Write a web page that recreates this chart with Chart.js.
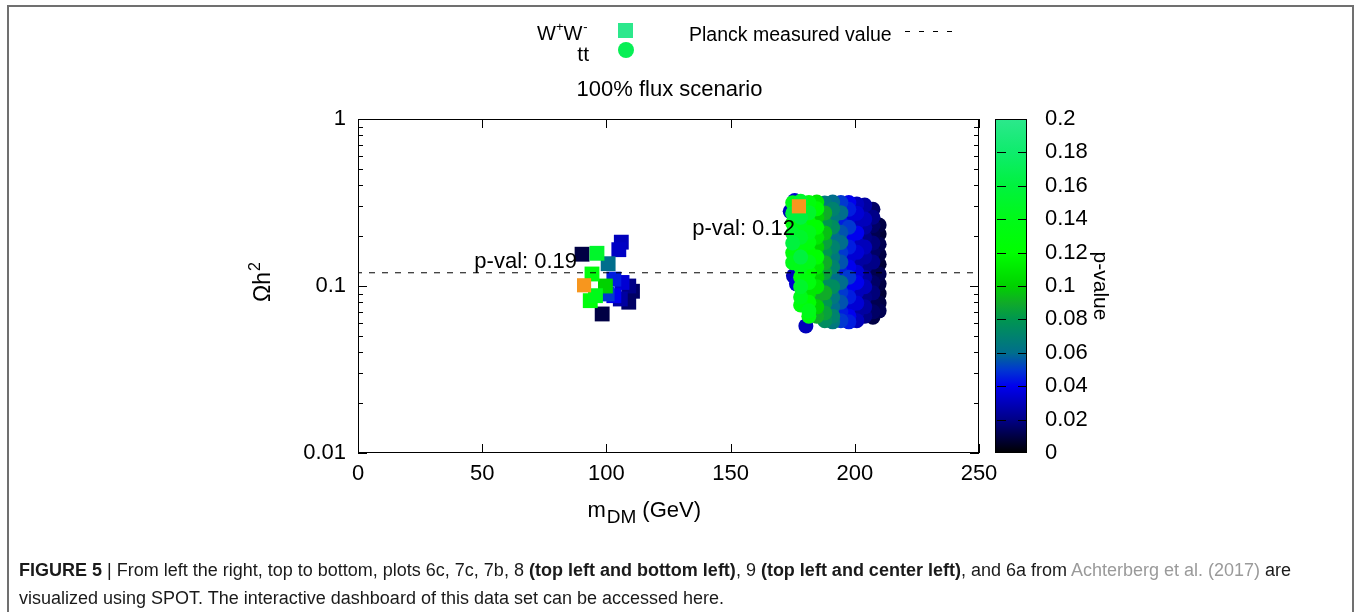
<!DOCTYPE html>
<html>
<head>
<meta charset="utf-8">
<script src="https://cdn.jsdelivr.net/npm/chart.js@4.4.0/dist/chart.umd.min.js"></script>
<style>
  body { margin: 0; background: #fff; }
  #wrap { position: relative; width: 1356px; height: 612px; overflow: hidden; background: #fff; }
  #frame { position: absolute; left: 7px; top: 5px; width: 1347px; height: 700px; border: 2px solid #707070; box-sizing: border-box; }
  canvas { position: absolute; left: 0; top: 0; }
  #caption { position: absolute; left: 19px; top: 556px; white-space: nowrap;
    font: 18px "Liberation Sans", Arial, sans-serif; line-height: 28px; color: #1a1a1a; }
  #caption .ref { color: #9a9a9a; }
</style>
</head>
<body>
<div id="wrap">
  <div id="frame"></div>
  <canvas id="chart" width="1356" height="612"></canvas>
  <div id="caption"><b>FIGURE 5</b> | From left the right, top to bottom, plots 6c, 7c, 7b, 8 <b>(top left and bottom left)</b>, 9 <b>(top left and center left)</b>, and 6a from <span class="ref">Achterberg et al. (2017)</span> are<br>visualized using SPOT. The interactive dashboard of this data set can be accessed here.</div>
</div>
<script>
// W+W- channel (squares): mass, relic density, p-value
const wwMass  = [90.2, 96.2, 106.0, 105.0, 100.7, 94.2, 95.6, 93.5, 99.6, 103.0, 106.3, 109.0, 103.0, 109.0, 98.3, 105.6, 100.3, 110.5];
const wwOmega = [0.155, 0.157, 0.183, 0.165, 0.136, 0.118, 0.0875, 0.0817, 0.100, 0.110, 0.105, 0.100, 0.0875, 0.080, 0.068, 0.0836, 0.0896, 0.093];
const wwPval  = [0.01, 0.15, 0.03, 0.032, 0.06, 0.13, 0.14, 0.13, 0.10, 0.045, 0.035, 0.02, 0.04, 0.015, 0.01, 0.025, 0.05, 0.015];

// tt channel (circles), read column by column across the cloud
const ttMass = [175.0, 178.2, 181.5, 184.7, 187.9, 191.1, 194.4, 197.6, 200.8, 204.0, 207.3, 209.8];
const ttOmega = [
  [0.315, 0.272, 0.238, 0.207, 0.181, 0.158, 0.138],
  [0.322, 0.290, 0.258, 0.225, 0.196, 0.171, 0.149, 0.130, 0.113, 0.099, 0.086, 0.077],
  [0.316, 0.275, 0.240, 0.209, 0.182, 0.159, 0.139, 0.120, 0.105, 0.091, 0.080, 0.071, 0.066],
  [0.318, 0.290, 0.258, 0.225, 0.196, 0.171, 0.149, 0.130, 0.113, 0.099, 0.086, 0.075, 0.066],
  [0.314, 0.274, 0.239, 0.208, 0.182, 0.159, 0.138, 0.120, 0.105, 0.091, 0.079, 0.069, 0.062],
  [0.318, 0.288, 0.258, 0.225, 0.196, 0.171, 0.149, 0.130, 0.113, 0.099, 0.086, 0.075, 0.066, 0.061],
  [0.316, 0.275, 0.241, 0.210, 0.182, 0.159, 0.139, 0.120, 0.105, 0.092, 0.080, 0.070, 0.062],
  [0.316, 0.288, 0.258, 0.225, 0.196, 0.171, 0.149, 0.130, 0.113, 0.099, 0.086, 0.075, 0.066, 0.061],
  [0.310, 0.273, 0.239, 0.208, 0.182, 0.159, 0.139, 0.121, 0.105, 0.092, 0.079, 0.069, 0.062],
  [0.305, 0.280, 0.252, 0.225, 0.196, 0.171, 0.149, 0.130, 0.113, 0.099, 0.086, 0.075, 0.066],
  [0.288, 0.258, 0.230, 0.205, 0.181, 0.159, 0.139, 0.121, 0.105, 0.091, 0.080, 0.070, 0.065],
  [0.232, 0.205, 0.178, 0.155, 0.135, 0.118, 0.103, 0.090, 0.079, 0.071]
];
const ttPval = [
  [0.14, 0.16, 0.13, 0.15, 0.16, 0.13, 0.14],
  [0.15, 0.13, 0.16, 0.14, 0.15, 0.13, 0.16, 0.14, 0.13, 0.15, 0.14, 0.13],
  [0.13, 0.15, 0.12, 0.14, 0.13, 0.12, 0.14, 0.12, 0.13, 0.11, 0.12, 0.14, 0.13],
  [0.11, 0.12, 0.10, 0.12, 0.11, 0.10, 0.12, 0.11, 0.10, 0.11, 0.09, 0.10, 0.09],
  [0.065, 0.09, 0.08, 0.095, 0.085, 0.08, 0.09, 0.085, 0.075, 0.09, 0.08, 0.085, 0.075],
  [0.06, 0.07, 0.065, 0.075, 0.06, 0.07, 0.065, 0.07, 0.06, 0.075, 0.065, 0.06, 0.07, 0.065],
  [0.05, 0.06, 0.045, 0.055, 0.06, 0.05, 0.055, 0.045, 0.06, 0.05, 0.055, 0.045, 0.05],
  [0.04, 0.045, 0.035, 0.05, 0.04, 0.045, 0.035, 0.04, 0.05, 0.04, 0.045, 0.035, 0.04, 0.045],
  [0.03, 0.035, 0.03, 0.04, 0.03, 0.035, 0.025, 0.035, 0.04, 0.03, 0.035, 0.025, 0.03],
  [0.025, 0.02, 0.03, 0.025, 0.02, 0.03, 0.025, 0.02, 0.025, 0.03, 0.02, 0.025, 0.02],
  [0.015, 0.02, 0.015, 0.012, 0.018, 0.015, 0.02, 0.012, 0.015, 0.018, 0.012, 0.015, 0.01],
  [0.01, 0.008, 0.012, 0.01, 0.008, 0.012, 0.01, 0.008, 0.01, 0.012]
];
// stray low p-value points on the left edge of the tt cloud
const ttEdgeMass  = [174.0, 175.8, 175.3, 176.5, 180.3];
const ttEdgeOmega = [0.280, 0.325, 0.115, 0.103, 0.0577];
const ttEdgePval  = [0.03, 0.035, 0.03, 0.035, 0.03];

// best fit points (orange squares)
const bestMass  = [91.0, 177.5];
const bestOmega = [0.101, 0.300];

// Planck measured value
const planckOmega = 0.12;

// annotations
const noteText  = ['p-val: 0.19', 'p-val: 0.12'];
const noteMass  = [88.2, 175.9];
const noteOmega = [0.139, 0.219];

// axes and colour bar
const xTicks = [0, 50, 100, 150, 200, 250];
const yMajorTicks = [0.01, 0.1, 1];
const yMinorTicks = [0.02, 0.03, 0.04, 0.05, 0.06, 0.07, 0.08, 0.09, 0.2, 0.3, 0.4, 0.5, 0.6, 0.7, 0.8, 0.9];
const cbTicks = [0, 0.02, 0.04, 0.06, 0.08, 0.1, 0.12, 0.14, 0.16, 0.18, 0.2];
const cbTickLabels = ['0', '0.02', '0.04', '0.06', '0.08', '0.1', '0.12', '0.14', '0.16', '0.18', '0.2'];
const cbStops  = [0, 0.02, 0.04, 0.05, 0.06, 0.08, 0.09, 0.1, 0.12, 0.14, 0.16, 0.18, 0.2];
const cbColors = ['#000000', '#000087', '#0000ee', '#0038d0', '#006e8c', '#009650', '#10ab28', '#00d200', '#00ff00', '#00fa18', '#00f23e', '#0eec6c', '#2ce88c'];

const FONT = '"Liberation Sans", Arial, sans-serif';

function hexRgb(h) {
  return [parseInt(h.slice(1, 3), 16), parseInt(h.slice(3, 5), 16), parseInt(h.slice(5, 7), 16)];
}
function pColor(p) {
  if (p <= cbStops[0]) return cbColors[0];
  for (let i = 1; i < cbStops.length; i++) {
    if (p <= cbStops[i]) {
      const t = (p - cbStops[i - 1]) / (cbStops[i] - cbStops[i - 1]);
      const a = hexRgb(cbColors[i - 1]), b = hexRgb(cbColors[i]);
      const c = a.map((v, k) => Math.round(v + (b[k] - v) * t));
      return `rgb(${c[0]},${c[1]},${c[2]})`;
    }
  }
  return cbColors[cbColors.length - 1];
}

const wwData = wwMass.map((m, i) => ({x: m, y: wwOmega[i], p: wwPval[i]}))
  .sort((a, b) => a.p - b.p);
const ttData = [];
ttMass.forEach((m, i) => ttOmega[i].forEach((o, j) => ttData.push({x: m, y: o, p: ttPval[i][j]})));
ttEdgeMass.forEach((m, i) => ttData.push({x: m, y: ttEdgeOmega[i], p: ttEdgePval[i]}));
ttData.sort((a, b) => a.p - b.p);
const bestData = bestMass.map((m, i) => ({x: m, y: bestOmega[i]}));

// DRAW EVERYTHING THAT IS NOT A PLAIN DATASET: frame, ticks, colour bar, legend, titles
const decor = {
  id: 'decor',
  afterDatasetsDraw(chart) {
    const {ctx, scales: {x, y}} = chart;
    ctx.save();
    ctx.fillStyle = '#000';
    ctx.font = '22px ' + FONT;
    ctx.textAlign = 'right';
    ctx.textBaseline = 'middle';
    noteText.forEach((t, i) => ctx.fillText(t, x.getPixelForValue(noteMass[i]), y.getPixelForValue(noteOmega[i])));
    ctx.restore();
  },
  afterDraw(chart) {
    const {ctx, chartArea: a, scales: {x, y, pv}} = chart;
    ctx.save();
    ctx.strokeStyle = '#000';
    ctx.lineWidth = 1;
    ctx.strokeRect(a.left + 0.5, a.top + 0.5, a.width - 1, a.height - 1);

    // inward tick marks, mirrored
    ctx.beginPath();
    xTicks.forEach(v => {
      const px = Math.round(x.getPixelForValue(v)) + 0.5;
      ctx.moveTo(px, a.bottom); ctx.lineTo(px, a.bottom - 9);
      ctx.moveTo(px, a.top); ctx.lineTo(px, a.top + 9);
    });
    yMajorTicks.concat(yMinorTicks).forEach(v => {
      const len = yMajorTicks.includes(v) ? 9 : 5;
      const py = Math.round(y.getPixelForValue(v)) + 0.5;
      ctx.moveTo(a.left, py); ctx.lineTo(a.left + len, py);
      ctx.moveTo(a.right, py); ctx.lineTo(a.right - len, py);
    });
    ctx.stroke();

    // colour bar
    const cbL = a.right + 16, cbW = 32;
    const cbTop = pv.getPixelForValue(0.2), cbBot = pv.getPixelForValue(0);
    const g = ctx.createLinearGradient(0, cbBot, 0, cbTop);
    cbStops.forEach((s, i) => g.addColorStop(s / 0.2, cbColors[i]));
    ctx.fillStyle = g;
    ctx.fillRect(cbL, cbTop, cbW, cbBot - cbTop);
    ctx.strokeRect(cbL + 0.5, cbTop + 0.5, cbW - 1, cbBot - cbTop - 1);
    ctx.beginPath();
    cbTicks.slice(1, -1).forEach(v => {
      const py = Math.round(pv.getPixelForValue(v)) + 0.5;
      ctx.moveTo(cbL + 2, py); ctx.lineTo(cbL + 11, py);
      ctx.moveTo(cbL + cbW - 9, py); ctx.lineTo(cbL + cbW, py);
    });
    ctx.stroke();

    ctx.fillStyle = '#000';
    // colour bar title
    ctx.save();
    ctx.translate(a.right + 121, (cbTop + cbBot) / 2);
    ctx.rotate(Math.PI / 2);
    ctx.font = '21px ' + FONT;
    ctx.textAlign = 'center';
    ctx.textBaseline = 'middle';
    ctx.fillText('p-value', 0, 0);
    ctx.restore();

    // y title: Ωh^2
    ctx.save();
    ctx.translate(a.left - 96, (a.top + a.bottom) / 2 - 4);
    ctx.rotate(-Math.PI / 2);
    ctx.textBaseline = 'alphabetic';
    ctx.textAlign = 'left';
    ctx.font = '23px ' + FONT;
    const wO = ctx.measureText('Ωh').width;
    ctx.fillText('Ωh', -wO / 2 - 5, 8);
    ctx.font = '16px ' + FONT;
    ctx.fillText('2', wO / 2 - 4, -2);
    ctx.restore();

    // x title: m_DM (GeV)
    ctx.textBaseline = 'alphabetic';
    ctx.textAlign = 'left';
    let tx = (a.left + a.right) / 2 - 81;
    const ty = a.bottom + 64;
    ctx.font = '22px ' + FONT;
    ctx.fillText('m', tx, ty); tx += ctx.measureText('m').width + 1;
    ctx.font = '19px ' + FONT;
    ctx.fillText('DM', tx, ty + 6); tx += ctx.measureText('DM').width + 6;
    ctx.font = '22px ' + FONT;
    ctx.fillText('(GeV)', tx, ty);

    // legend
    const cx = (a.left + a.right) / 2;
    ctx.font = '20px ' + FONT;
    let lx = 537;
    ctx.fillText('W', lx, 40); lx += ctx.measureText('W').width;
    ctx.font = '13px ' + FONT;
    ctx.fillText('+', lx, 31); lx += ctx.measureText('+').width;
    ctx.font = '20px ' + FONT;
    ctx.fillText('W', lx, 40); lx += ctx.measureText('W').width;
    ctx.font = '13px ' + FONT;
    ctx.fillText('-', lx + 1, 31);
    ctx.font = '21px ' + FONT;
    ctx.textAlign = 'right';
    ctx.fillText('tt', 589, 61);
    ctx.fillStyle = pColor(0.2);
    ctx.fillRect(618, 23, 15, 15);
    ctx.fillStyle = pColor(0.17);
    ctx.beginPath(); ctx.arc(626, 50, 8, 0, Math.PI * 2); ctx.fill();
    ctx.fillStyle = '#000';
    ctx.textAlign = 'left';
    ctx.font = '19.5px ' + FONT;
    ctx.fillText('Planck measured value', 689, 41);
    ctx.setLineDash([5, 9]);
    ctx.beginPath(); ctx.moveTo(905, 31.5); ctx.lineTo(960, 31.5); ctx.stroke();
    ctx.setLineDash([]);
    ctx.textAlign = 'center';
    ctx.font = '22px ' + FONT;
    ctx.fillText('100% flux scenario', cx + 1, 96);
    ctx.restore();
  }
};

Chart.defaults.font.family = FONT;
Chart.defaults.font.size = 22;
Chart.defaults.color = '#000';

new Chart(document.getElementById('chart'), {
  type: 'scatter',
  data: {
    datasets: [
      {label: 'tt', data: ttData, pointStyle: 'circle', pointRadius: 7.5, pointHoverRadius: 7.5,
       pointBackgroundColor: c => pColor(c.raw.p), pointBorderWidth: 0, order: 3},
      {label: 'W+W-', data: wwData, pointStyle: 'rect', pointRadius: 10.5, pointHoverRadius: 10.5,
       pointBackgroundColor: c => pColor(c.raw.p), pointBorderWidth: 0, order: 2},
      {label: 'best fit', data: bestData, pointStyle: 'rect', pointRadius: 10, pointHoverRadius: 10,
       pointBackgroundColor: '#f7961e', pointBorderWidth: 0, order: 1},
      {label: 'Planck measured value', data: [{x: 0, y: planckOmega}, {x: 250, y: planckOmega}],
       showLine: true, borderColor: '#000', borderWidth: 1, borderDash: [6, 7], borderDashOffset: 2,
       pointRadius: 0, order: 0}
    ]
  },
  options: {
    responsive: false,
    animation: false,
    events: [],
    layout: {padding: {left: 258, right: 227, top: 119, bottom: 99}},
    plugins: {legend: {display: false}, tooltip: {enabled: false}},
    scales: {
      x: {
        type: 'linear', min: 0, max: 250,
        afterBuildTicks: s => { s.ticks = xTicks.map(v => ({value: v})); },
        afterFit: s => { s.height = 60; },
        ticks: {padding: 8, autoSkip: false, maxRotation: 0},
        grid: {display: false, drawTicks: false},
        border: {display: false}
      },
      y: {
        type: 'logarithmic', min: 0.01, max: 1,
        afterBuildTicks: s => {
          s.ticks = yMajorTicks.concat(yMinorTicks).sort((p, q) => p - q).map(v => ({value: v}));
        },
        afterFit: s => { s.width = 100; },
        ticks: {padding: 12, autoSkip: false, callback: v => yMajorTicks.includes(v) ? String(v) : ''},
        grid: {display: false, drawTicks: false},
        border: {display: false}
      },
      pv: {
        type: 'linear', position: 'right', min: 0, max: 0.2,
        afterBuildTicks: s => { s.ticks = cbTicks.map(v => ({value: v})); },
        afterFit: s => { s.width = 150; },
        ticks: {padding: 66, autoSkip: false, callback: (v, i) => cbTickLabels[i]},
        grid: {display: false, drawTicks: false},
        border: {display: false}
      }
    }
  },
  plugins: [decor]
});
</script>
</body>
</html>
